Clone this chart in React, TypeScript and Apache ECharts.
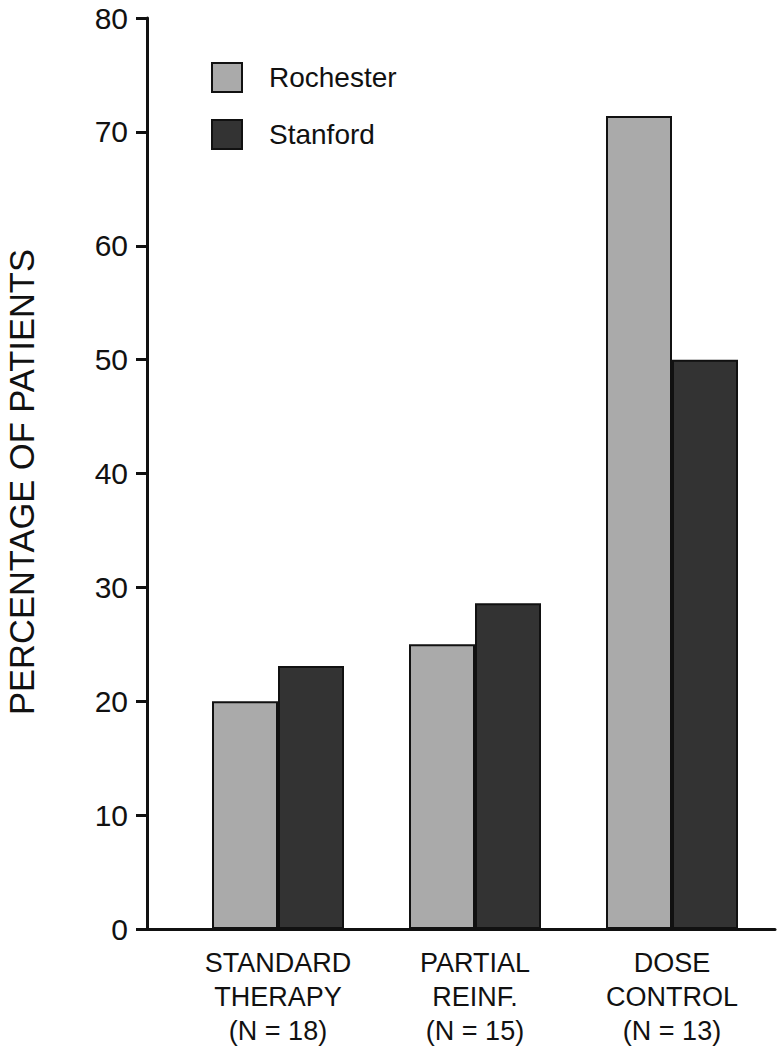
import React, { useEffect, useRef } from "react";
import * as echarts from "echarts";

const categories = ["STANDARD\nTHERAPY\n(N = 18)", "PARTIAL\nREINF.\n(N = 15)", "DOSE\nCONTROL\n(N = 13)"];
const rochester = [20, 25, 71.4];
const stanford = [23.1, 28.6, 50];
const seriesNames = ["Rochester", "Stanford"];
const yTitle = "PERCENTAGE OF PATIENTS";
const yMin = 0;
const yMax = 80;
const yInterval = 10;

export default function App() {
  const ref = useRef<HTMLDivElement>(null);
  useEffect(() => {
    if (!ref.current) return;
    const chart = echarts.init(ref.current, null, { renderer: "svg" });
    const font = "Liberation Sans, Arial, Helvetica, sans-serif";
    chart.setOption({
      animation: false,
      backgroundColor: "#ffffff",
      textStyle: { fontFamily: font },
      graphic: [
        {
          type: "text",
          x: 22,
          y: 482,
          rotation: Math.PI / 2,
          style: {
            text: yTitle,
            fontSize: 34.5,
            fontFamily: font,
            fill: "#111",
            align: "center",
            verticalAlign: "middle",
          },
        },
      ],
      legend: {
        orient: "vertical",
        left: 206,
        top: 57,
        itemWidth: 30,
        itemHeight: 29,
        itemGap: 26,
        icon: "rect",
        data: seriesNames,
        textStyle: { fontSize: 28, color: "#111", fontFamily: font, padding: [4, 0, 0, 22] },
      },
      grid: [
        { left: 147, right: 9, top: 18, bottom: 121 },
        { left: 179.5, right: 13.5, top: 18, bottom: 121 },
      ],
      xAxis: [
        {
          type: "category",
          gridIndex: 0,
          data: categories,
          axisLine: { show: true, lineStyle: { color: "#111", width: 3 } },
          axisTick: { show: false },
          axisLabel: { show: false },
        },
        {
          type: "category",
          gridIndex: 1,
          data: categories,
          axisLine: { show: false },
          axisTick: { show: false },
          axisLabel: {
            show: true,
            margin: 17,
            fontSize: 27,
            lineHeight: 34,
            color: "#111",
            fontFamily: font,
            align: "center",
          },
        },
      ],
      yAxis: [
        {
          type: "value",
          gridIndex: 0,
          min: yMin,
          max: yMax,
          interval: yInterval,
          axisLine: { show: true, lineStyle: { color: "#111", width: 3 } },
          axisTick: { show: true, length: 11, lineStyle: { color: "#111", width: 3 } },
          axisLabel: { fontSize: 30, color: "#111", margin: 19, fontFamily: font },
          splitLine: { show: false },
        },
        {
          type: "value",
          gridIndex: 1,
          min: yMin,
          max: yMax,
          interval: yInterval,
          show: false,
          splitLine: { show: false },
        },
      ],
      series: [
        {
          name: seriesNames[0],
          type: "bar",
          xAxisIndex: 1,
          yAxisIndex: 1,
          data: rochester,
          barWidth: 66,
          barGap: "0%",
          itemStyle: { color: "#aaaaaa", borderColor: "#111", borderWidth: 2 },
        },
        {
          name: seriesNames[1],
          type: "bar",
          xAxisIndex: 1,
          yAxisIndex: 1,
          data: stanford,
          barWidth: 66,
          barGap: "0%",
          itemStyle: { color: "#333333", borderColor: "#111", borderWidth: 2 },
        },
      ],
    });
    return () => chart.dispose();
  }, []);
  return (
    <div
      ref={ref}
      style={{ position: "fixed", left: 0, top: 0, width: 784, height: 1050 }}
    />
  );
}
